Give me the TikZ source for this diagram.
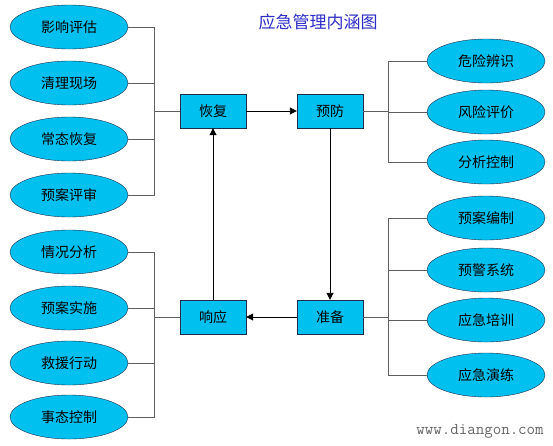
\documentclass[tikz,border=0pt]{standalone}
\usepackage{fontspec}
\usepackage{tikz}
\usetikzlibrary{shapes.geometric,arrows.meta}
\newfontfamily\cjk{Noto Sans CJK SC}
\definecolor{fillc}{RGB}{0,192,240}
\definecolor{edgec}{RGB}{30,45,75}
\definecolor{linec}{RGB}{95,95,95}
\definecolor{titlec}{RGB}{45,45,200}

\begin{document}
\begin{tikzpicture}[x=1pt, y=-1pt,
        oval/.style={ellipse, draw=edgec, fill=fillc, inner sep=0pt, minimum width=118pt, minimum height=44pt, font=\cjk\fontsize{14}{14}\selectfont},
        stage/.style={rectangle, draw=edgec, fill=fillc, inner sep=0pt, minimum width=66pt, minimum height=34pt, font=\cjk\fontsize{14}{14}\selectfont},
        branch/.style={draw=linec, line width=0.9pt},
        flow/.style={draw=black, line width=0.9pt, -{Triangle[length=7pt, width=7pt]}}]
        \useasboundingbox[fill=white] (0,0) rectangle (553,445);

        \node[font=\cjk\fontsize{17}{17}\selectfont, text=titlec] (t) at (318,22) {应急管理内涵图};

        \node[stage] (n1) at (213,111) {恢复};
        \node[stage] (n2) at (330,111) {预防};
        \node[stage] (n3) at (330,317) {准备};
        \node[stage] (n4) at (213,317) {响应};

        \node[oval] (e1) at (69,27) {影响评估};
        \node[oval] (e2) at (69,83) {清理现场};
        \node[oval] (e3) at (69,139) {常态恢复};
        \node[oval] (e4) at (69,195) {预案评审};

        \node[oval] (e5) at (486,61) {危险辨识};
        \node[oval] (e6) at (486,112) {风险评价};
        \node[oval] (e7) at (486,162) {分析控制};

        \node[oval] (e8) at (486,218) {预案编制};
        \node[oval] (e9) at (486,270) {预警系统};
        \node[oval] (e10) at (486,320) {应急培训};
        \node[oval] (e11) at (486,375) {应急演练};

        \node[oval] (e12) at (69,252) {情况分析};
        \node[oval] (e13) at (69,308) {预案实施};
        \node[oval] (e14) at (69,363) {救援行动};
        \node[oval] (e15) at (69,417) {事态控制};

        \node[font=\ttfamily\fontsize{16.5}{16.5}\selectfont, text=black!60] (w) at (480,431) {www.diangon.com};

        \coordinate (j1) at (154,111);
        \coordinate (j2) at (388,111);
        \coordinate (j3) at (388,317);
        \coordinate (j4) at (154,317);

        \draw[branch] (n1.west) -- (j1);
        \draw[branch] (e1.east) -| (j1);
        \draw[branch] (e2.east) -| (j1);
        \draw[branch] (e3.east) -| (j1);
        \draw[branch] (e4.east) -| (j1);

        \draw[branch] (n2.east) -- (j2);
        \draw[branch] (e5.west) -| (j2);
        \draw[branch] (e6.west) -| (j2);
        \draw[branch] (e7.west) -| (j2);

        \draw[branch] (n3.east) -- (j3);
        \draw[branch] (e8.west) -| (j3);
        \draw[branch] (e9.west) -| (j3);
        \draw[branch] (e10.west) -| (j3);
        \draw[branch] (e11.west) -| (j3);

        \draw[branch] (n4.west) -- (j4);
        \draw[branch] (e12.east) -| (j4);
        \draw[branch] (e13.east) -| (j4);
        \draw[branch] (e14.east) -| (j4);
        \draw[branch] (e15.east) -| (j4);
        %%
        \draw[flow] (n1) -- (n2);
        \draw[flow] (n2) -- (n3);
        \draw[flow] (n3) -- (n4);
        \draw[flow] (n4) -- (n1);
    \end{tikzpicture}
\end{document}
